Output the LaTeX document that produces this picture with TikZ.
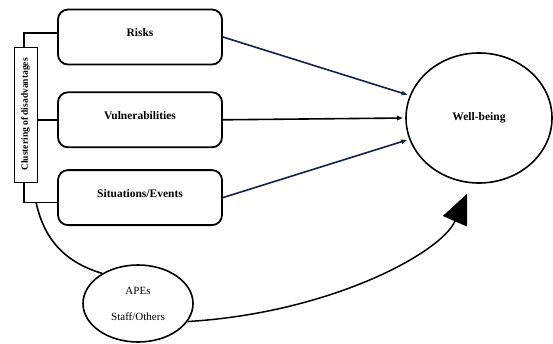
\documentclass[tikz,border=0pt]{standalone}
\usepackage{fontspec}
\setmainfont{Liberation Serif}
\usetikzlibrary{arrows.meta}
\usetikzlibrary{shapes.geometric}
\usetikzlibrary{positioning}
\definecolor{navy}{RGB}{22,32,72}

\begin{document}
\begin{tikzpicture}[x=1pt,y=1pt,
        box/.style={draw=black,line width=1.8pt,rounded corners=10pt,minimum width=164pt,minimum height=55pt,text depth=8pt,font=\fontsize{11.5}{13}\selectfont\bfseries},
        oval/.style={draw=black,ellipse,line width=1.6pt,inner sep=0pt},
        bracket/.style={line width=1.6pt},
        link/.style={line width=1.6pt,-{Latex[length=6pt,width=5pt]},shorten >=2pt}
    ]
        \useasboundingbox (0,0) rectangle (553,343);
        \node[box] (risks) at (140,306) {Risks};
        \node[box] (vuln) [below=26pt of risks] {Vulnerabilities};
        \node[box] (situ) [below=21pt of vuln] {Situations/Events};
        \node[oval,minimum width=146pt,minimum height=130pt,font=\fontsize{11.5}{13}\selectfont\bfseries] (well) at (479,225) {Well-being};
        \node[oval,minimum width=110pt,minimum height=77pt,align=center,font=\fontsize{11}{12}\selectfont] (apes) at (138,39.5) {APEs\\[14pt]Staff/Others};

        \coordinate (split) at ([shift={(-21pt,-5pt)}]situ.west);
        \coordinate (tip) at ([shift={(-12pt,-10pt)}]well.south);

        \draw[bracket] ([yshift=4pt]risks.west) -- ++(-33pt,0) |- ([yshift=-5pt]situ.west);
        \node[draw=black,fill=white,line width=0.8pt,rotate=90,minimum width=135pt,minimum height=23pt,inner sep=1pt,font=\fontsize{9.5}{11}\selectfont\bfseries] (cluster) at (25.5,228.5) {Clustering of disadvantages};
        \draw[bracket] (vuln.west) -- (vuln.west -| cluster.south);

        \draw[link,navy] (risks.east) -- (well.162);
        \draw[link] (vuln.east) -- (well.west);
        \draw[link,navy] (situ.east) -- (well.197);

        \draw[bracket] (split) .. controls (45,100) and (68,80) .. (apes.140);
        \draw[line width=1.5pt,-{Triangle[length=30pt,width=26pt]}] (apes.-20) .. controls (330,30) and (441,90) .. (tip);
    \end{tikzpicture}
\end{document}
